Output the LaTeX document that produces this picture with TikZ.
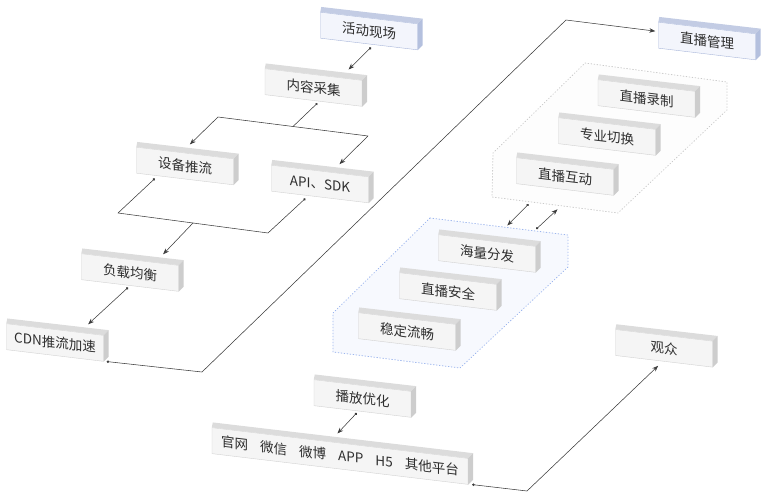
\documentclass[tikz,border=0pt]{standalone}
\usepackage{fontspec}
\setmainfont{Noto Sans CJK SC}
\usetikzlibrary{calc,arrows.meta}
\definecolor{boxfill}{HTML}{F5F5F5}
\definecolor{boxline}{HTML}{D2D2D2}
\definecolor{boxtop}{HTML}{DCDCDC}
\definecolor{boxside}{HTML}{CDCDCD}
\definecolor{bluefill}{HTML}{F3F5FC}
\definecolor{blueline}{HTML}{A9B7DA}
\definecolor{bluetop}{HTML}{C3CCE4}
\definecolor{blueside}{HTML}{B4C0DE}
\definecolor{linkc}{HTML}{3C3C3C}
\definecolor{txt}{HTML}{2E2E2E}
\definecolor{zoneline}{HTML}{CACACA}
\definecolor{zonefill}{HTML}{FDFDFD}
\definecolor{bluezoneline}{HTML}{9DB6EE}
\definecolor{bluezonefill}{HTML}{F7F9FE}
\begin{document}
\begin{tikzpicture}[x=1pt,y=-1pt,line join=round,line cap=round,>={Stealth[length=6pt,width=4.5pt]}]
	\tikzset{
		box/.style={draw=boxline,fill=boxfill,yslant=-0.12,minimum width=97pt,minimum height=26pt,inner sep=0pt,text=txt,font=\fontsize{13.5}{16}\selectfont},
		bluebox/.style={box,draw=blueline,fill=bluefill},
		link/.style={draw=linkc,line width=0.55pt},
		dotline/.style={{Circle[length=2.5pt]}-},
		dotarrow/.style={{Circle[length=2.5pt]}->},
		zone/.style={dash pattern=on 0.8pt off 2.2pt,draw=zoneline,fill=zonefill,line width=0.8pt}
	}
	\useasboundingbox (0,0) rectangle (762,495);
	\coordinate (r1a) at (585,63);  \coordinate (r1b) at (727,82);  \coordinate (r1c) at (727,110);
	\coordinate (r1d) at (618,213); \coordinate (r1e) at (492,197); \coordinate (r1f) at (493,153);
	\coordinate (r2a) at (430,218); \coordinate (r2b) at (568,235); \coordinate (r2c) at (568,267);
	\coordinate (r2d) at (460,368); \coordinate (r2e) at (333,352); \coordinate (r2f) at (333,313);
	\draw[zone] (r1a)--(r1b)--(r1c)--(r1d)--(r1e)--(r1f)--cycle;
	\draw[zone,draw=bluezoneline,fill=bluezonefill] (r2a)--(r2b)--(r2c)--(r2d)--(r2e)--(r2f)--cycle;

	\node[bluebox] (live) at (369,31) {活动现场};
	\node[bluebox] (manage) at (707,41) {直播管理};
	\node[box] (collect) at (313.5,87.5) {内容采集};
	\node[box] (device) at (185,166) {设备推流};
	\node[box] (api) at (320,184) {API、SDK};
	\node[box] (balance) at (130,272.5) {负载均衡};
	\node[box] (cdn) at (55,342.5) {CDN推流加速};
	\node[box] (record) at (646.5,98.5) {直播录制};
	\node[box] (switch) at (607,136.5) {专业切换};
	\node[box] (interact) at (565,176.5) {直播互动};
	\node[box] (mass) at (487,253.5) {海量分发};
	\node[box] (secure) at (448,291.5) {直播安全};
	\node[box] (smooth) at (407,331.5) {稳定流畅};
	\node[box] (audience) at (664,348.3) {观众};
	\node[box] (optimize) at (362.5,398.5) {播放优化};
	\node[box,minimum width=256pt] (platform) at (340,456) {官网\hspace{12pt}微信\hspace{12pt}微博\hspace{12pt}APP\hspace{12pt}H5\hspace{12pt}其他平台};

	\foreach \n in {collect,device,api,balance,cdn,record,switch,interact,mass,secure,smooth,audience,optimize,platform}{
		\fill[boxtop] (\n.north west) -- ++(1,-5) -- ($(\n.north east)+(5,-5)$) -- (\n.north east) -- cycle;
		\fill[boxside] (\n.north east) -- ++(5,-5) -- ($(\n.south east)+(5,-5)$) -- (\n.south east) -- cycle;
	}
	\foreach \n in {live,manage}{
		\fill[bluetop] (\n.north west) -- ++(1,-5) -- ($(\n.north east)+(5,-5)$) -- (\n.north east) -- cycle;
		\fill[blueside] (\n.north east) -- ++(5,-5) -- ($(\n.south east)+(5,-5)$) -- (\n.south east) -- cycle;
	}

	\coordinate (split) at (293,126.5);
	\coordinate (splitL) at (218,117);
	\coordinate (splitR) at (368,136);
	\coordinate (joinL) at (118,213);
	\coordinate (joinR) at (268,233);
	\coordinate (join) at (193,223);
	\coordinate (bendA) at (202,372);
	\coordinate (bendB) at (566,20);
	\coordinate (bendC) at (527,491);

	\draw[link,dotarrow] ($(live.south west)!.52!(live.south east)+(0,3)$) -- ($(collect.north west)!.86!(collect.north east)+(0,-9)$);
	\draw[link,dotline] ($(collect.south west)!.54!(collect.south east)+(0,2)$) -- (split);
	\draw[link,->] (split) -- (splitL) -- ($(device.north west)!.55!(device.north east)+(0,-9)$);
	\draw[link,->] (split) -- (splitR) -- ($(api.north west)!.7!(api.north east)+(0,-9)$);
	\draw[link,dotline] ($(device.south west)!.19!(device.south east)+(0,3)$) -- (joinL) -- (join);
	\draw[link,dotline] ($(api.south west)!.35!(api.south east)+(0,3)$) -- (joinR) -- (join);
	\draw[link,->] (join) -- ($(balance.north west)!.84!(balance.north east)+(0,-9)$);
	\draw[link,dotarrow] ($(balance.south west)!.48!(balance.south east)+(0,2)$) -- ($(cdn.north west)!.84!(cdn.north east)+(0,-9)$);
	\draw[link,dotarrow] ($(cdn.south east)+(3,0)$) -- (bendA) -- (bendB) -- ($(manage.west)+(-3,-4)$);
	\draw[link,dotarrow] ($(r1e)!.29!(r1d)+(0,2.5)$) -- ($(r2a)!.56!(r2b)+(0,-2)$);
	\draw[link,dotarrow] ($(r2a)!.77!(r2b)+(0,-2)$) -- ($(r1e)!.52!(r1d)+(0,4)$);
	\draw[link,dotarrow] ($(optimize.south west)!.44!(optimize.south east)+(0,2)$) -- ($(platform.north west)!.49!(platform.north east)+(0,-9)$);
	\draw[link,dotarrow] ($(platform.south east)+(4,0)$) -- (bendC) -- ($(audience.south west)!.44!(audience.south east)+(0,5)$);
\end{tikzpicture}
\end{document}
